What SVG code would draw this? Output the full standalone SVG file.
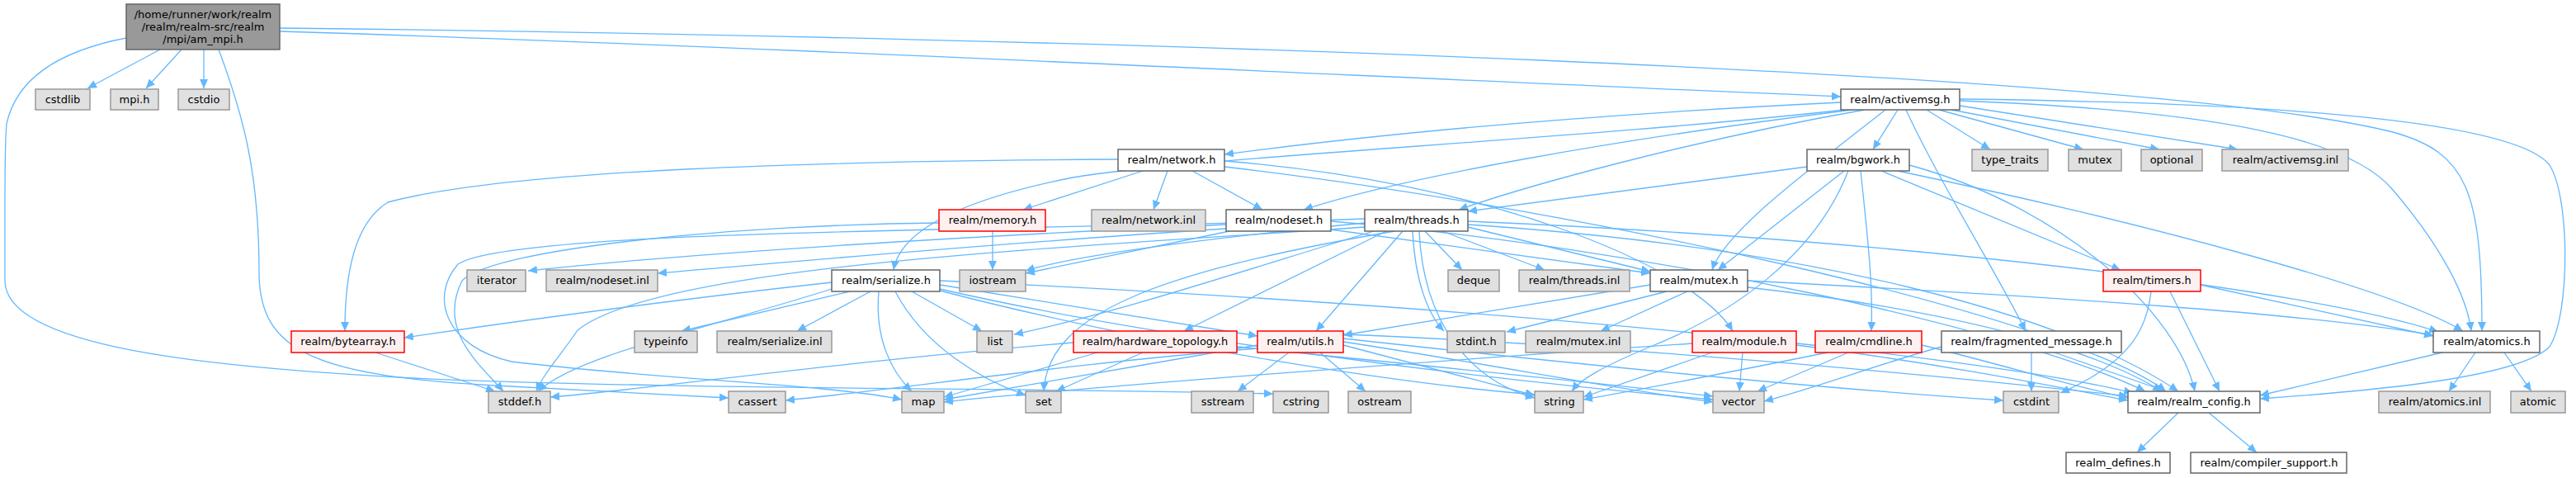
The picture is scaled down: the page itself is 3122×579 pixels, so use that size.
<svg xmlns="http://www.w3.org/2000/svg" width="3122" height="579" viewBox="0 0 3122 579">
<style>
rect{stroke-width:1.5}
.n rect{fill:#ffffff;stroke:#666666}
.g rect{fill:#e0e0e0;stroke:#999999}
.r rect{fill:#fff0f0;stroke:#ff0000}
.m rect{fill:#999999;stroke:#666666}
text{font-family:"DejaVu Sans",sans-serif;font-size:13px;text-anchor:middle;fill:#000}
#edges path{fill:none;stroke:#63b8ff;stroke-width:1.3;marker-end:url(#a)}
</style>
<defs>
<marker id="a" markerUnits="userSpaceOnUse" markerWidth="12" markerHeight="10" refX="11" refY="5" orient="auto"><path d="M0,0 L11,5 L0,10 z" fill="#63b8ff"/></marker>
</defs>
<rect width="3122" height="579" fill="#ffffff"/>
<g id="edges">
<path d="M194,60 L106,107"/>
<path d="M220,60 L177,107"/>
<path d="M247,60 L247,107"/>
<path d="M265,60 C295,140 314,210 314,330 C314,425 380,455 600,467 C740,475 830,479 883,482"/>
<path d="M153,46 C70,62 20,95 8,150 C6,170 6,200 6,250 L6,340 C6,420 250,445 500,458 C800,472 1300,470 1543,477"/>
<path d="M339,38 C900,55 1700,95 2231,117"/>
<path d="M339,34 C1300,45 2600,85 2900,160 C2990,185 3008,230 3008,401"/>
<path d="M2231,124 C1900,140 1650,165 1484,187"/>
<path d="M2236,133 C1900,170 1450,190 1300,215 C1150,245 1090,285 1083,327"/>
<path d="M2245,133 C1950,170 1700,215 1580,254"/>
<path d="M2260,133 C2050,170 1850,225 1768,254"/>
<path d="M2285,133 C2200,200 2090,280 2075,327"/>
<path d="M2300,133 L2270,181"/>
<path d="M2310,133 C2350,220 2420,330 2455,401"/>
<path d="M2335,133 L2412,181"/>
<path d="M2350,133 L2525,181"/>
<path d="M2365,133 L2617,181"/>
<path d="M2375,128 L2712,181"/>
<path d="M2375,122 C2700,135 2850,170 2900,230 C2960,300 2990,360 2995,401"/>
<path d="M2375,120 C2800,125 3050,150 3090,200 C3115,240 3115,380 3090,420 C3050,460 2850,475 2739,483"/>
<path d="M1385,207 L1240,254"/>
<path d="M1415,207 L1398,254"/>
<path d="M1445,207 L1530,254"/>
<path d="M1355,193 C1000,195 620,205 470,245 C430,270 418,330 418,401"/>
<path d="M1484,195 C1800,220 2050,320 2100,401"/>
<path d="M1484,202 C1900,250 2500,380 2625,474"/>
<path d="M1203,280 L1203,327"/>
<path d="M1138,270 C900,272 600,300 560,340 C530,400 580,440 610,474"/>
<path d="M1486,272 C1200,285 850,305 640,328"/>
<path d="M1486,277 C1200,295 950,318 797,331"/>
<path d="M1490,280 L1243,331"/>
<path d="M1613,278 L2000,331"/>
<path d="M1613,268 C2000,300 2450,400 2600,474"/>
<path d="M1727,280 L1772,327"/>
<path d="M1748,280 L1872,327"/>
<path d="M1779,275 L2000,329"/>
<path d="M1654,270 C1450,290 1300,310 1243,328"/>
<path d="M1665,280 C1500,330 1350,380 1229,405"/>
<path d="M1680,280 L1435,401"/>
<path d="M1700,280 L1595,401"/>
<path d="M1712,280 C1715,340 1730,380 1750,401"/>
<path d="M1720,280 C1725,390 1780,460 1860,482"/>
<path d="M1690,280 C1400,330 1270,380 1265,474"/>
<path d="M1654,265 C1300,280 620,275 555,320 C520,360 540,420 620,438 C800,460 1000,465 1093,484"/>
<path d="M1654,275 C1300,300 800,320 700,400 C680,430 660,450 650,474"/>
<path d="M1779,268 C2300,290 2800,350 2955,402"/>
<path d="M1779,272 C2200,300 2500,380 2640,474"/>
<path d="M2190,202 L1779,256"/>
<path d="M2235,207 L2082,327"/>
<path d="M2240,207 C2200,310 2100,380 2000,420 C1940,445 1915,460 1905,474"/>
<path d="M2255,207 C2265,300 2270,350 2268,401"/>
<path d="M2280,207 L2570,327"/>
<path d="M2300,207 C2600,270 2900,350 2985,401"/>
<path d="M2314,200 C2500,250 2640,380 2660,474"/>
<path d="M1008,342 C800,365 620,390 490,409"/>
<path d="M1030,353 L826,401"/>
<path d="M1055,353 L966,401"/>
<path d="M1105,353 L1190,401"/>
<path d="M1065,353 C1060,410 1080,450 1105,474"/>
<path d="M1085,353 C1120,420 1190,460 1243,479"/>
<path d="M1139,345 L1524,407"/>
<path d="M1008,350 C850,400 700,430 652,474"/>
<path d="M1139,350 C1400,410 1800,460 2076,484"/>
<path d="M1139,352 C1400,420 1700,465 1860,478"/>
<path d="M1139,340 C1800,370 2400,430 2585,476"/>
<path d="M1330,427 L1144,481"/>
<path d="M1385,427 L1280,474"/>
<path d="M1301,415 C1000,440 800,470 667,481"/>
<path d="M1499,420 C1700,440 1950,465 2076,480"/>
<path d="M1562,427 L1500,474"/>
<path d="M1600,427 L1655,474"/>
<path d="M1524,422 C1300,440 1100,470 952,485"/>
<path d="M1524,418 C1400,440 1250,465 1144,484"/>
<path d="M1628,418 L1860,479"/>
<path d="M1628,414 C1800,440 1950,470 2076,487"/>
<path d="M1628,410 C1900,440 2200,470 2428,485"/>
<path d="M1628,405 C2000,420 2400,460 2579,480"/>
<path d="M2000,345 L1628,406"/>
<path d="M2020,353 L1826,402"/>
<path d="M2045,353 L1940,401"/>
<path d="M2118,340 C2500,360 2800,380 2949,406"/>
<path d="M2118,348 C2400,380 2550,430 2620,474"/>
<path d="M2607,353 C2602,400 2580,440 2497,476"/>
<path d="M2630,353 L2690,474"/>
<path d="M2667,345 L2949,407"/>
<path d="M2075,427 L1919,481"/>
<path d="M2112,427 L2108,474"/>
<path d="M2051,416 C1700,440 1300,470 1144,487"/>
<path d="M2177,418 C2350,440 2500,470 2579,485"/>
<path d="M2215,427 C2100,450 2000,470 1919,484"/>
<path d="M2240,427 L2130,474"/>
<path d="M2329,418 C2420,440 2520,470 2579,482"/>
<path d="M2462,427 L2462,474"/>
<path d="M2353,420 C2280,440 2200,470 2138,486"/>
<path d="M2490,427 L2625,474"/>
<path d="M2960,427 L2739,479"/>
<path d="M3000,427 L2968,474"/>
<path d="M3035,427 L3068,474"/>
<path d="M2640,500 L2590,548"/>
<path d="M2677,500 L2735,548"/>
<path d="M455,427 L600,474"/>
</g>
<g id="node-main" class="m"><rect x="153" y="5" width="186" height="55"/><text x="246" y="22">/home/runner/work/realm</text><text x="246" y="37">/realm/realm-src/realm</text><text x="246" y="52">/mpi/am_mpi.h</text></g>
<g id="node-cstdlib" class="g"><rect x="43" y="108" width="66" height="25"/><text x="76" y="125">cstdlib</text></g>
<g id="node-mpi" class="g"><rect x="134" y="108" width="58" height="25"/><text x="163" y="125">mpi.h</text></g>
<g id="node-cstdio" class="g"><rect x="216" y="108" width="62" height="25"/><text x="247" y="125">cstdio</text></g>
<g id="node-activemsg" class="n"><rect x="2231" y="108" width="144" height="25"/><text x="2303" y="125">realm/activemsg.h</text></g>
<g id="node-network" class="n"><rect x="1355" y="181" width="129" height="26"/><text x="1420" y="198">realm/network.h</text></g>
<g id="node-bgwork" class="n"><rect x="2190" y="181" width="124" height="26"/><text x="2252" y="198">realm/bgwork.h</text></g>
<g id="node-type_traits" class="g"><rect x="2390" y="181" width="92" height="26"/><text x="2436" y="198">type_traits</text></g>
<g id="node-mutex" class="g"><rect x="2507" y="181" width="64" height="26"/><text x="2539" y="198">mutex</text></g>
<g id="node-optional" class="g"><rect x="2595" y="181" width="74" height="26"/><text x="2632" y="198">optional</text></g>
<g id="node-activemsg_inl" class="g"><rect x="2693" y="181" width="153" height="26"/><text x="2770" y="198">realm/activemsg.inl</text></g>
<g id="node-memory" class="r"><rect x="1138" y="254" width="129" height="26"/><text x="1203" y="271">realm/memory.h</text></g>
<g id="node-network_inl" class="g"><rect x="1323" y="254" width="138" height="26"/><text x="1392" y="271">realm/network.inl</text></g>
<g id="node-nodeset" class="n"><rect x="1486" y="254" width="127" height="26"/><text x="1550" y="271">realm/nodeset.h</text></g>
<g id="node-threads" class="n"><rect x="1654" y="254" width="125" height="26"/><text x="1717" y="271">realm/threads.h</text></g>
<g id="node-iterator" class="g"><rect x="566" y="327" width="71" height="26"/><text x="602" y="344">iterator</text></g>
<g id="node-nodeset_inl" class="g"><rect x="662" y="327" width="135" height="26"/><text x="730" y="344">realm/nodeset.inl</text></g>
<g id="node-serialize" class="n"><rect x="1008" y="327" width="131" height="26"/><text x="1074" y="344">realm/serialize.h</text></g>
<g id="node-iostream" class="g"><rect x="1163" y="327" width="80" height="26"/><text x="1203" y="344">iostream</text></g>
<g id="node-deque" class="g"><rect x="1755" y="327" width="62" height="26"/><text x="1786" y="344">deque</text></g>
<g id="node-threads_inl" class="g"><rect x="1841" y="327" width="134" height="26"/><text x="1908" y="344">realm/threads.inl</text></g>
<g id="node-mutex_h" class="n"><rect x="2000" y="327" width="118" height="26"/><text x="2059" y="344">realm/mutex.h</text></g>
<g id="node-timers" class="r"><rect x="2549" y="327" width="118" height="26"/><text x="2608" y="344">realm/timers.h</text></g>
<g id="node-bytearray" class="r"><rect x="353" y="401" width="137" height="26"/><text x="422" y="418">realm/bytearray.h</text></g>
<g id="node-typeinfo" class="g"><rect x="769" y="401" width="76" height="26"/><text x="807" y="418">typeinfo</text></g>
<g id="node-serialize_inl" class="g"><rect x="869" y="401" width="139" height="26"/><text x="939" y="418">realm/serialize.inl</text></g>
<g id="node-list" class="g"><rect x="1184" y="401" width="43" height="26"/><text x="1206" y="418">list</text></g>
<g id="node-hardware_topology" class="r"><rect x="1301" y="401" width="198" height="26"/><text x="1400" y="418">realm/hardware_topology.h</text></g>
<g id="node-utils" class="r"><rect x="1524" y="401" width="104" height="26"/><text x="1576" y="418">realm/utils.h</text></g>
<g id="node-stdint" class="g"><rect x="1754" y="401" width="70" height="26"/><text x="1789" y="418">stdint.h</text></g>
<g id="node-mutex_inl" class="g"><rect x="1849" y="401" width="127" height="26"/><text x="1913" y="418">realm/mutex.inl</text></g>
<g id="node-module" class="r"><rect x="2051" y="401" width="126" height="26"/><text x="2114" y="418">realm/module.h</text></g>
<g id="node-cmdline" class="r"><rect x="2200" y="401" width="129" height="26"/><text x="2265" y="418">realm/cmdline.h</text></g>
<g id="node-fragmented" class="n"><rect x="2353" y="401" width="218" height="26"/><text x="2462" y="418">realm/fragmented_message.h</text></g>
<g id="node-atomics" class="n"><rect x="2949" y="401" width="129" height="26"/><text x="3014" y="418">realm/atomics.h</text></g>
<g id="node-stddef" class="g"><rect x="592" y="474" width="75" height="26"/><text x="630" y="491">stddef.h</text></g>
<g id="node-cassert" class="g"><rect x="883" y="474" width="69" height="26"/><text x="918" y="491">cassert</text></g>
<g id="node-map" class="g"><rect x="1093" y="474" width="51" height="26"/><text x="1119" y="491">map</text></g>
<g id="node-set" class="g"><rect x="1243" y="474" width="43" height="26"/><text x="1265" y="491">set</text></g>
<g id="node-sstream" class="g"><rect x="1444" y="474" width="75" height="26"/><text x="1482" y="491">sstream</text></g>
<g id="node-cstring" class="g"><rect x="1543" y="474" width="67" height="26"/><text x="1577" y="491">cstring</text></g>
<g id="node-ostream" class="g"><rect x="1634" y="474" width="76" height="26"/><text x="1672" y="491">ostream</text></g>
<g id="node-string" class="g"><rect x="1860" y="474" width="59" height="26"/><text x="1890" y="491">string</text></g>
<g id="node-vector" class="g"><rect x="2076" y="474" width="62" height="26"/><text x="2107" y="491">vector</text></g>
<g id="node-cstdint" class="g"><rect x="2428" y="474" width="67" height="26"/><text x="2462" y="491">cstdint</text></g>
<g id="node-realm_config" class="n"><rect x="2579" y="474" width="160" height="26"/><text x="2659" y="491">realm/realm_config.h</text></g>
<g id="node-atomics_inl" class="g"><rect x="2883" y="474" width="135" height="26"/><text x="2951" y="491">realm/atomics.inl</text></g>
<g id="node-atomic" class="g"><rect x="3043" y="474" width="66" height="26"/><text x="3076" y="491">atomic</text></g>
<g id="node-realm_defines" class="n"><rect x="2504" y="548" width="126" height="25"/><text x="2567" y="565">realm_defines.h</text></g>
<g id="node-compiler_support" class="n"><rect x="2655" y="548" width="189" height="25"/><text x="2750" y="565">realm/compiler_support.h</text></g>
</svg>
